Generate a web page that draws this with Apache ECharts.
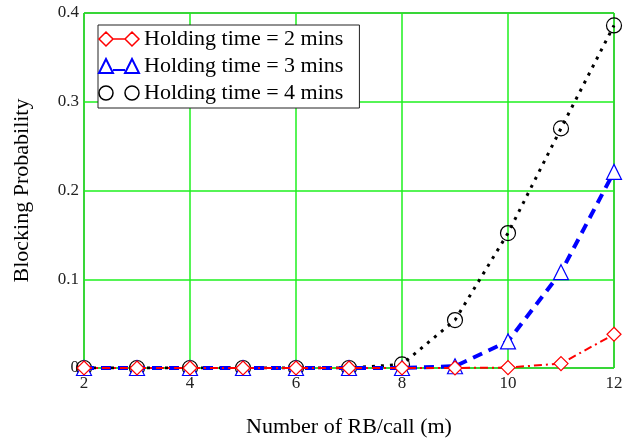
<!DOCTYPE html>
<html>
<head>
<meta charset="utf-8">
<script src="https://cdn.jsdelivr.net/npm/echarts@6/dist/echarts.min.js"></script>
<style>
  html, body { margin: 0; padding: 0; background: #fff; }
  #chart { width: 627px; height: 441px; }
</style>
</head>
<body>
<div id="chart"></div>
<script>
// number of RB per call
const rbPerCall = [2, 3, 4, 5, 6, 7, 8, 9, 10, 11, 12]
const hold2 = [0, 0, 0, 0, 0, 0, 0, 0, 0.0005, 0.005, 0.038]
const hold3 = [0, 0, 0, 0, 0, 0, 0, 0.002, 0.03, 0.108, 0.221]
const hold4 = [0, 0, 0, 0, 0, 0, 0.004, 0.054, 0.152, 0.27, 0.386]
const names = ['Holding time = 2 mins', 'Holding time = 3 mins', 'Holding time = 4 mins']

const pairs = ys => rbPerCall.map((x, i) => [x, ys[i]])
const serif = 'Liberation Serif'

const chart = echarts.init(document.getElementById('chart'))
chart.setOption({
  animation: false,
  textStyle: { fontFamily: serif },
  grid: {
    left: 84,
    right: 13,
    top: 13,
    bottom: 73,
    outerBoundsMode: 'none',
    containLabel: false,
    show: true,
    borderColor: '#111',
    borderWidth: 1
  },
  legend: {
    orient: 'vertical',
    left: 98,
    top: 25,
    backgroundColor: '#fff',
    borderColor: '#222',
    borderWidth: 1,
    borderRadius: 0,
    padding: [3, 16, 4, 0],
    itemGap: 5,
    itemWidth: 40,
    itemHeight: 14,
    textStyle: { fontFamily: serif, fontSize: 22, color: '#000' },
    data: [
      {
        name: names[0],
        icon: 'path://M0,7 L7,0 L14,7 L7,14 Z M26,7 L33,0 L40,7 L33,14 Z M14,7 L26,7',
        itemStyle: { color: '#fff', borderColor: '#ff0000', borderWidth: 1.5 }
      },
      {
        name: names[1],
        icon: 'path://M0,14 L7,0 L14,14 Z M26,14 L33,0 L40,14 Z M14,11 L26,11',
        itemStyle: { color: '#fff', borderColor: '#0000ff', borderWidth: 2 }
      },
      {
        name: names[2],
        icon: 'path://M0,7 A7,7 0 1,0 14,7 A7,7 0 1,0 0,7 Z M26,7 A7,7 0 1,0 40,7 A7,7 0 1,0 26,7 Z',
        itemStyle: { color: '#fff', borderColor: '#000', borderWidth: 1.5 }
      }
    ]
  },
  xAxis: {
    type: 'value',
    min: 2,
    max: 12,
    interval: 2,
    name: 'Number of RB/call (m)',
    nameLocation: 'middle',
    nameGap: 48,
    nameTextStyle: { fontFamily: serif, fontSize: 22, color: '#000' },
    axisLine: { show: false },
    axisTick: { show: false },
    axisLabel: { fontFamily: serif, fontSize: 17, color: '#222', margin: 7 },
    splitLine: { show: true, lineStyle: { color: '#1ef01e', width: 1.5 } }
  },
  yAxis: {
    type: 'value',
    min: 0,
    max: 0.4,
    interval: 0.1,
    name: 'Blocking Probability',
    nameLocation: 'middle',
    nameGap: 51,
    nameRotate: 90,
    nameTextStyle: { fontFamily: serif, fontSize: 22, color: '#000' },
    axisLine: { show: false },
    axisTick: { show: false },
    axisLabel: { fontFamily: serif, fontSize: 17, color: '#222', margin: 5 },
    splitLine: { show: true, lineStyle: { color: '#1ef01e', width: 1.5 } }
  },
  series: [
    {
      name: names[0],
      type: 'line',
      data: pairs(hold2),
      symbol: 'diamond',
      symbolSize: 14,
      z: 4,
      lineStyle: { color: '#ff0000', width: 2, type: [8, 4, 2, 4] },
      itemStyle: { color: '#fff', borderColor: '#ff0000', borderWidth: 1.2 }
    },
    {
      name: names[1],
      type: 'line',
      data: pairs(hold3),
      symbol: 'triangle',
      symbolSize: 15,
      z: 3,
      lineStyle: { color: '#0000ff', width: 4, type: [10, 7] },
      itemStyle: { color: '#fff', borderColor: '#0000ff', borderWidth: 1.2 }
    },
    {
      name: names[2],
      type: 'line',
      data: pairs(hold4),
      symbol: 'circle',
      symbolSize: 15,
      z: 2,
      lineStyle: { color: '#000', width: 3, type: [3, 6] },
      itemStyle: { color: 'transparent', borderColor: '#000', borderWidth: 1.2 }
    }
  ]
})
window.addEventListener('resize', () => chart.resize())
</script>
</body>
</html>
